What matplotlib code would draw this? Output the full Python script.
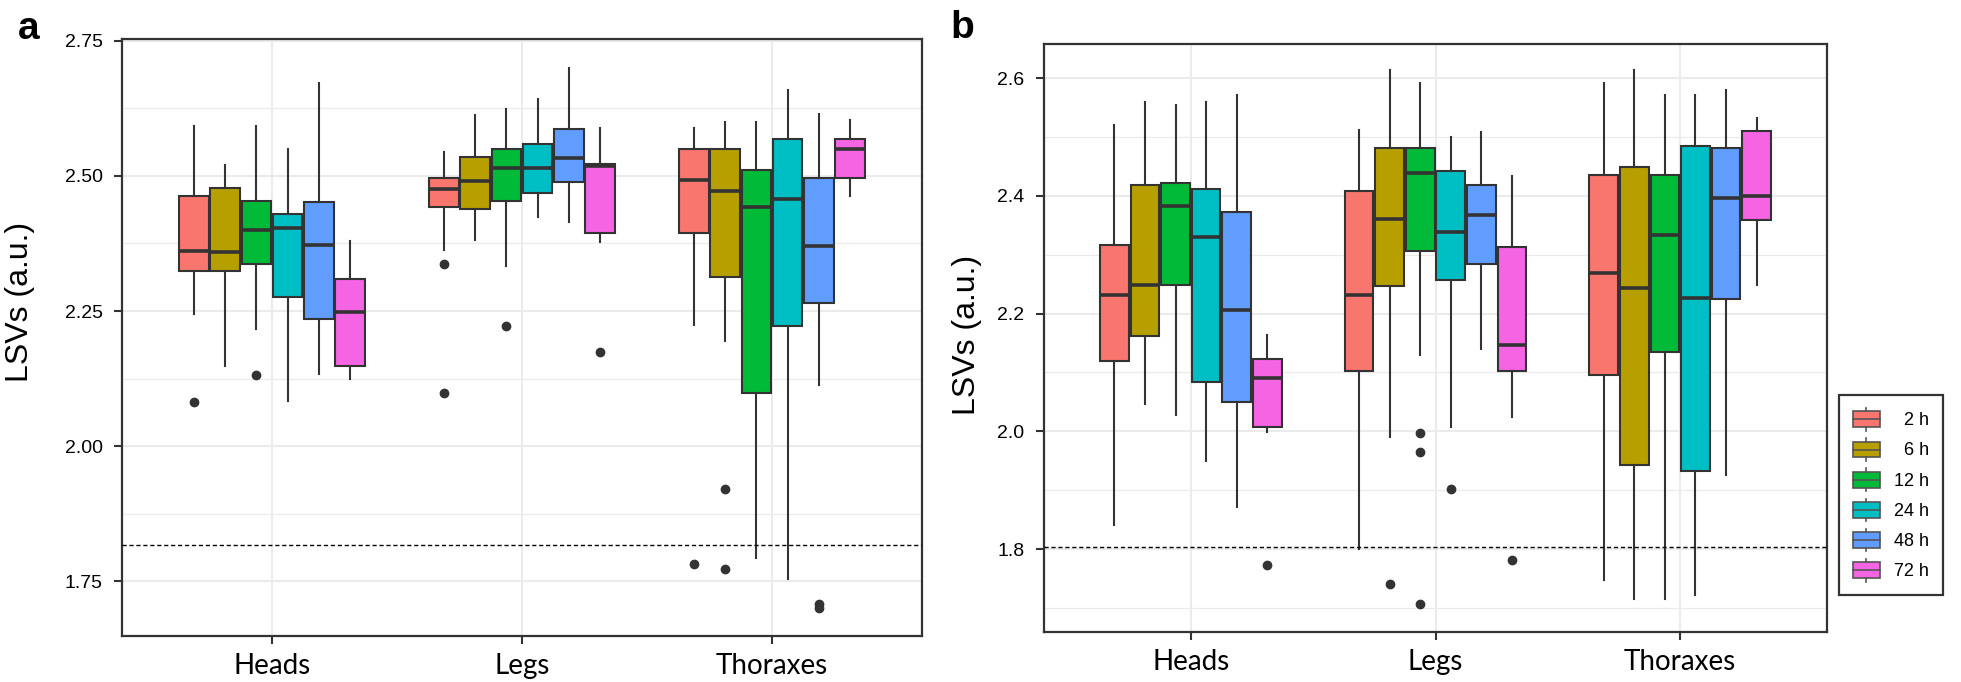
import matplotlib
matplotlib.use("Agg")
import matplotlib.pyplot as plt
from matplotlib.patches import Rectangle, Patch
from matplotlib.lines import Line2D
from matplotlib.legend_handler import HandlerBase
import numpy as np

# ---------------- data ----------------
categories = ["Heads", "Legs", "Thoraxes"]
times = ["2 h", "6 h", "12 h", "24 h", "48 h", "72 h"]
colors = ["#F8766D", "#B79F00", "#00BA38", "#00BFC4", "#619CFF", "#F564E3"]

# Panel a (rows: categories, cols: times)
a_whishi = [[2.592, 2.520, 2.592, 2.550, 2.672, 2.379],
            [2.544, 2.612, 2.623, 2.642, 2.700, 2.589],
            [2.588, 2.600, 2.600, 2.658, 2.615, 2.603]]
a_q3 = [[2.462, 2.478, 2.454, 2.429, 2.451, 2.309],
        [2.496, 2.534, 2.550, 2.558, 2.587, 2.522],
        [2.550, 2.550, 2.510, 2.568, 2.496, 2.568]]
a_med = [[2.361, 2.360, 2.400, 2.404, 2.372, 2.248],
         [2.476, 2.491, 2.514, 2.514, 2.533, 2.518],
         [2.493, 2.472, 2.442, 2.457, 2.370, 2.550]]
a_q1 = [[2.324, 2.324, 2.336, 2.275, 2.236, 2.149],
        [2.443, 2.439, 2.454, 2.469, 2.488, 2.394],
        [2.394, 2.313, 2.099, 2.222, 2.264, 2.496]]
a_whislo = [[2.244, 2.149, 2.217, 2.083, 2.134, 2.125],
            [2.362, 2.381, 2.334, 2.423, 2.415, 2.377],
            [2.225, 2.194, 1.793, 1.755, 2.114, 2.462]]
a_fliers = [[[2.081], [], [2.131], [], [], []],
            [[2.336, 2.099], [], [2.222], [], [], [2.175]],
            [[1.783], [1.921, 1.772], [], [], [1.700, 1.709], []]]
a_threshold = 1.818
a_yticks = [1.75, 2.00, 2.25, 2.50, 2.75]
a_ylim = (1.649, 2.753)

# Panel b
b_whishi = [[2.521, 2.560, 2.554, 2.560, 2.571, 2.163],
            [2.512, 2.613, 2.591, 2.500, 2.508, 2.433],
            [2.591, 2.613, 2.571, 2.571, 2.580, 2.532]]
b_q3 = [[2.316, 2.418, 2.422, 2.411, 2.373, 2.123],
        [2.408, 2.481, 2.481, 2.443, 2.418, 2.313],
        [2.435, 2.449, 2.435, 2.484, 2.481, 2.511]]
b_med = [[2.231, 2.248, 2.382, 2.330, 2.206, 2.090],
         [2.231, 2.361, 2.439, 2.339, 2.368, 2.146],
         [2.269, 2.243, 2.333, 2.226, 2.396, 2.400]]
b_q1 = [[2.120, 2.162, 2.249, 2.084, 2.050, 2.008],
        [2.103, 2.247, 2.307, 2.257, 2.285, 2.103],
        [2.096, 1.943, 2.134, 1.933, 2.225, 2.359]]
b_whislo = [[1.841, 2.046, 2.027, 1.950, 1.872, 1.999],
            [1.800, 1.990, 2.129, 2.007, 2.140, 2.024],
            [1.747, 1.715, 1.715, 1.722, 1.925, 2.249]]
b_fliers = [[[], [], [], [], [], [1.772]],
            [[], [1.741], [1.997, 1.965, 1.706], [1.902], [], [1.782]],
            [[], [], [], [], [], []]]
b_threshold = 1.804
b_yticks = [1.8, 2.0, 2.2, 2.4, 2.6]
b_ylim = (1.659, 2.658)

# ---------------- style ----------------
DARK = "#333333"
GRID = "#EBEBEB"
TICKFONT = "Liberation Sans"
CATFONT = "Lato"

W, H = 1961, 682
fig = plt.figure(figsize=(W / 100, H / 100), dpi=100)


def px_axes(left, top, right, bottom):
    return fig.add_axes([left / W, 1 - bottom / H, (right - left) / W, (bottom - top) / H])


def draw_panel(ax, whishi, q3, med, q1, whislo, fliers, thr, yticks, ylim, fmt):
    n = len(times)
    step = 0.75 / n
    offsets = (np.arange(n) - (n - 1) / 2) * step
    for ci in range(len(categories)):
        for ti in range(n):
            st = dict(med=med[ci][ti], q1=q1[ci][ti], q3=q3[ci][ti],
                      whislo=whislo[ci][ti], whishi=whishi[ci][ti],
                      fliers=fliers[ci][ti])
            ax.bxp([st], positions=[ci + 1 + offsets[ti]], widths=step * 0.94,
                   patch_artist=True, showcaps=False, manage_ticks=False,
                   boxprops=dict(facecolor=colors[ti], edgecolor=DARK, linewidth=1.5),
                   whiskerprops=dict(color=DARK, linewidth=1.5),
                   medianprops=dict(color=DARK, linewidth=2.6, solid_capstyle="butt"),
                   flierprops=dict(marker="o", markerfacecolor=DARK, markeredgecolor=DARK,
                                   markersize=6, linestyle="none"),
                   zorder=3)
    ax.axhline(thr, color="black", linestyle=(0, (3, 2)), linewidth=1.0, zorder=4)
    ax.set_xlim(0.4, 3.6)
    ax.set_ylim(*ylim)
    ax.set_xticks(range(1, len(categories) + 1))
    ax.set_xticklabels(categories, fontfamily=CATFONT, fontsize=20, color="black")
    ax.set_yticks(yticks)
    ax.set_yticklabels([fmt.format(v) for v in yticks], fontfamily=TICKFONT, fontsize=14,
                       color="black")
    minors = [(yticks[i] + yticks[i + 1]) / 2 for i in range(len(yticks) - 1)]
    minors = [minors[0] - (yticks[1] - yticks[0])] + minors
    ax.set_yticks([m for m in minors if ylim[0] < m < ylim[1]], minor=True)
    ax.grid(True, which="major", color=GRID, linewidth=1.5, zorder=0)
    ax.grid(True, which="minor", axis="y", color=GRID, linewidth=0.9, zorder=0)
    ax.set_axisbelow(True)
    ax.tick_params(axis="both", which="major", length=6, width=1.5, color=DARK)
    ax.tick_params(axis="y", which="minor", length=0)
    ax.tick_params(axis="x", pad=6)
    ax.tick_params(axis="y", pad=8)
    for s in ax.spines.values():
        s.set_color(DARK)
        s.set_linewidth(1.6)


ax_a = px_axes(122, 39, 922, 636)
draw_panel(ax_a, a_whishi, a_q3, a_med, a_q1, a_whislo, a_fliers, a_threshold,
           a_yticks, a_ylim, "{:.2f}")
ax_b = px_axes(1044, 44, 1827, 632)
draw_panel(ax_b, b_whishi, b_q3, b_med, b_q1, b_whislo, b_fliers, b_threshold,
           b_yticks, b_ylim, "{:.1f}")

# y labels
fig.text(20 / W, 1 - 302 / H, "LSVs (a.u.)", rotation=90, ha="center", va="center",
         fontfamily=TICKFONT, fontsize=23)
fig.text(967 / W, 1 - 335 / H, "LSVs (a.u.)", rotation=90, ha="center", va="center",
         fontfamily=TICKFONT, fontsize=23)

# panel letters
fig.text(18 / W, 1 - 39 / H, "a", fontfamily=TICKFONT, fontweight="bold", fontsize=28,
         ha="left", va="baseline")
fig.text(950 / W, 1 - 38 / H, "b", fontfamily=TICKFONT, fontweight="bold", fontsize=28,
         ha="left", va="baseline")


# legend
class BoxKeyHandler(HandlerBase):
    def create_artists(self, legend, orig_handle, xdescent, ydescent, width, height,
                       fontsize, trans):
        x0, y0 = -xdescent, -ydescent
        fc = orig_handle.get_facecolor()
        cx = x0 + width / 2
        r = Rectangle((x0, y0 + 0.15 * height), width, 0.7 * height, facecolor=fc,
                      edgecolor="#555555", linewidth=1.2, transform=trans)
        m = Line2D([x0, x0 + width], [y0 + height / 2] * 2, color="#555555", linewidth=1.2,
                   transform=trans)
        w1 = Line2D([cx, cx], [y0, y0 + 0.15 * height], color="#555555", linewidth=1.2,
                    transform=trans)
        w2 = Line2D([cx, cx], [y0 + 0.85 * height, y0 + height], color="#555555",
                    linewidth=1.2, transform=trans)
        return [r, m, w1, w2]


handles = [Patch(facecolor=c) for c in times and colors]
labels = [("  " + t) if len(t) == 3 else t for t in times]
leg = fig.legend(handles, labels, handler_map={Patch: BoxKeyHandler()},
                 loc="upper left", bbox_to_anchor=(1839 / W, 1 - 394.5 / H),
                 borderaxespad=0, frameon=True, fancybox=False,
                 prop=dict(family=TICKFONT, size=13), handlelength=1.5, handleheight=1.55,
                 handletextpad=0.8, labelspacing=0.42, borderpad=0.75)
leg.get_frame().set_edgecolor("black")
leg.get_frame().set_linewidth(1.6)

fig.savefig("out.png", dpi=100)
